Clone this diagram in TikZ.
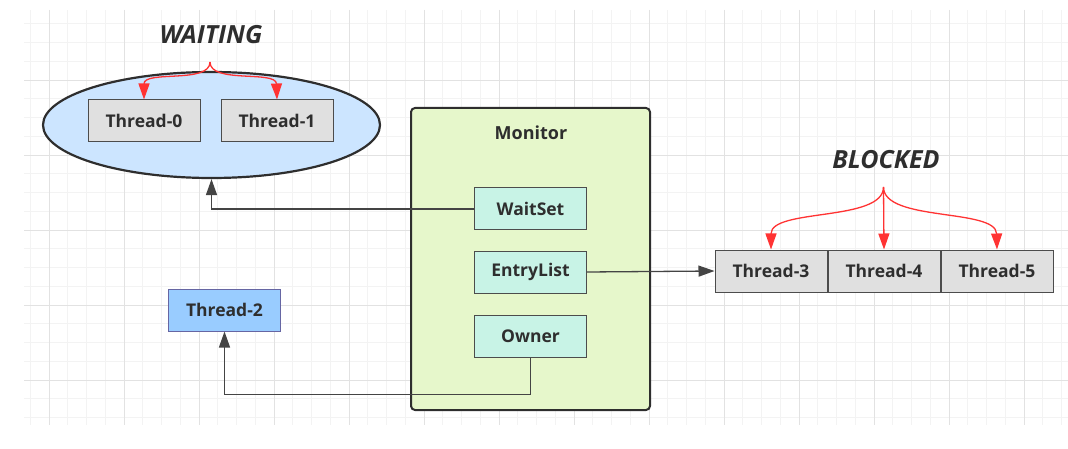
\documentclass[tikz,border=0pt]{standalone}
\usepackage{fontspec}
\usepackage{xcolor}
\usepackage{tikz}
\usetikzlibrary{arrows.meta,positioning,shapes.geometric}
\setmainfont{Open Sans}
\definecolor{GridMinor}{HTML}{F3F3F3}
\definecolor{GridMajor}{HTML}{E2E2E2}
\definecolor{InkGray}{HTML}{2E2E2E}
\definecolor{WireGray}{HTML}{444444}
\definecolor{ThreadGray}{HTML}{E0E0E0}
\definecolor{WaitBlue}{HTML}{CCE5FF}
\definecolor{OwnerBlue}{HTML}{99CCFF}
\definecolor{MonitorGreen}{HTML}{E6F7CB}
\definecolor{SlotMint}{HTML}{C8F3E6}
\definecolor{ForkRed}{HTML}{FF3333}
\tikzset{
  thread/.style={draw=black!70, line width=1pt, fill=ThreadGray, text=InkGray,
    font=\fontsize{17.5}{20}\selectfont\bfseries, minimum width=112pt, minimum height=42pt},
  runner/.style={thread, fill=OwnerBlue, draw=black!60!blue!60},
  slot/.style={thread, fill=SlotMint, draw=black!70},
  monitorbox/.style={draw=InkGray, line width=2pt, rounded corners=4pt, fill=MonitorGreen,
    minimum width=239pt, minimum height=302pt},
  waitroom/.style={ellipse, draw=InkGray, line width=2.2pt, fill=WaitBlue,
    minimum width=337pt, minimum height=106pt},
  statelabel/.style={text=InkGray, font=\fontsize{25}{28}\selectfont\bfseries\itshape},
  boxtitle/.style={text=InkGray, font=\fontsize{18}{20}\selectfont\bfseries},
  wire/.style={-{Triangle[length=16pt, width=11pt]}, line width=1.3pt, draw=WireGray},
  forkwire/.style={-{Triangle[length=16pt, width=11pt]}, line width=1.3pt, draw=ForkRed}
}

\begin{document}
\begin{tikzpicture}[x=1pt, y=-1pt]
  \useasboundingbox (0,0) rectangle (1068,449);
  % background grid
  \foreach \i in {0,...,55}
    \draw[GridMinor, line width=0.6pt] (30.25+18.75*\i,10) -- (30.25+18.75*\i,425);
  \foreach \j in {0,...,21}
    \draw[GridMinor, line width=0.6pt] (24,23.75+18.75*\j) -- (1068,23.75+18.75*\j);
  \foreach \i in {0,...,13}
    \draw[GridMajor, line width=0.7pt] (49+75*\i,10) -- (49+75*\i,425);
  \foreach \j in {1,...,5}
    \draw[GridMajor, line width=0.7pt] (24,5+75*\j) -- (1068,5+75*\j);

  % waiting threads
  \node[waitroom] (waitset room) at (211.5,125) {};
  \node[thread] (t0) at (144,121) {Thread-0};
  \node[thread, right=20pt of t0] (t1) {Thread-1};
  \node[statelabel] (waiting) at (211,35) {WAITING};
  \coordinate (waitfork) at (210,62);
  \draw[forkwire] (waitfork) .. controls (210,84) and (144,70) .. (t0.north);
  \draw[forkwire] (waitfork) .. controls (210,84) and (276,70) .. (t1.north);

  % monitor
  \node[monitorbox] (monitor) at (530.5,259) {};
  \node[boxtitle] (montitle) at (531,133) {Monitor};
  \node[slot] (waitset) at (530.5,209) {WaitSet};
  \node[slot, below=20pt of waitset] (entrylist) {EntryList};
  \node[slot, below=21pt of entrylist] (owner) {Owner};

  % owner thread
  \node[runner] (t2) at (224.5,310) {Thread-2};

  % blocked threads
  \node[thread] (t3) at (771,271) {Thread-3};
  \node[thread, right=0pt of t3] (t4) {Thread-4};
  \node[thread, right=0pt of t4] (t5) {Thread-5};
  \node[statelabel] (blocked) at (886,160) {BLOCKED};
  \coordinate (blockfork) at (883.5,187);
  \draw[forkwire] (blockfork) .. controls (883.5,222) and (771,208) .. (t3.north);
  \draw[forkwire] (blockfork) -- (t4.north);
  \draw[forkwire] (blockfork) .. controls (883.5,222) and (996,208) .. (t5.north);

  % links
  \draw[wire] (waitset.west) -| (waitset room.south);
  \draw[wire] (entrylist.east) -- (t3.west);
  \draw[wire] (owner.south) -- ++(0,37) -| (t2.south);
\end{tikzpicture}
\end{document}
